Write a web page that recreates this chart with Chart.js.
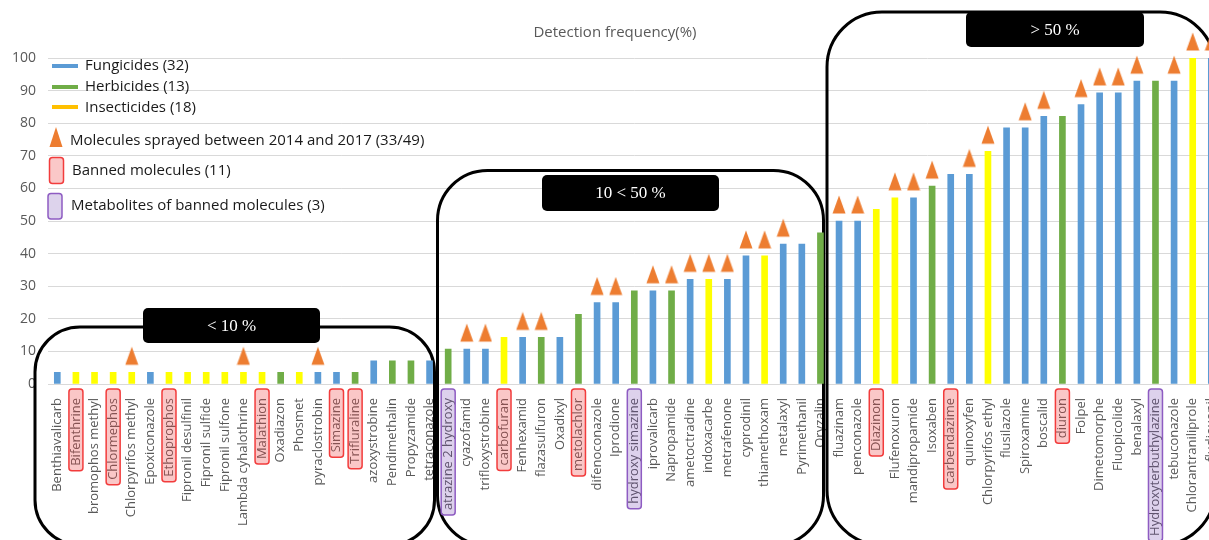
<!DOCTYPE html>
<html><head><meta charset="utf-8">
<script src="https://cdn.jsdelivr.net/npm/chart.js@4/dist/chart.umd.min.js"></script>
<style>html,body{margin:0;padding:0;overflow:hidden;background:#fff;width:1209px;height:540px}canvas{display:block}</style>
</head><body>
<canvas id="c" width="1233" height="540"></canvas>
<script>
const categories = ["Benthiavalicarb","Bifenthrine","bromophos methyl","Chlormephos","Chlorpyrifos methyl","Epoxiconazole","Ethoprophos","Fipronil desulfinil","Fipronil sulfide","Fipronil sulfone","Lambda cyhalothrine","Malathion","Oxadiazon","Phosmet","pyraclostrobin","Simazine","Trifluraline","azoxystrobine","Pendimethalin","Propyzamide","tetraconazole",
"atrazine 2 hydroxy","cyazofamid","trifloxystrobine","carbofuran","Fenhexamid","flazasulfuron","Oxadixyl","metolachlor","difenoconazole","Iprodione","hydroxy simazine","iprovalicarb","Napropamide","ametoctradine","indoxacarbe","metrafenone","cyprodinil","thiamethoxam","metalaxyl","Pyrimethanil","Oryzalin",
"fluazinam","penconazole","Diazinon","Flufenoxuron","mandipropamide","Isoxaben","carbendazime","quinoxyfen","Chlorpyrifos ethyl","flusilazole","Spiroxamine","boscalid","diuron","Folpel","Dimetomorphe","Fluopicolide","benalaxyl","Hydroxyterbuthylazine","tebuconazole","Chlorantraniliprole","fludioxonil"];

const frequency = [3.6,3.6,3.6,3.6,3.6,3.6,3.6,3.6,3.6,3.6,3.6,3.6,3.6,3.6,3.6,3.6,3.6,7.1,7.1,7.1,7.1,
10.7,10.7,10.7,14.3,14.3,14.3,14.3,21.4,25.0,25.0,28.6,28.6,28.6,32.1,32.1,32.1,39.3,39.3,42.9,42.9,46.4,
50.0,50.0,53.6,57.1,57.1,60.7,64.3,64.3,71.4,78.6,78.6,82.1,82.1,85.7,89.3,89.3,92.9,92.9,92.9,100,100];

const pesticideClass = ["F","I","I","I","I","F","I","I","I","I","I","I","H","I","F","F","H","F","H","H","F",
"H","F","F","I","F","H","F","H","F","F","H","F","H","F","I","F","F","I","F","F","H",
"F","F","I","I","F","H","F","F","I","F","F","F","H","F","F","F","F","H","F","I","F"];

const sprayedMolecules = ["Chlorpyrifos methyl","Lambda cyhalothrine","pyraclostrobin",
"cyazofamid","trifloxystrobine","Fenhexamid","flazasulfuron","difenoconazole","Iprodione","iprovalicarb","Napropamide","ametoctradine","indoxacarbe","metrafenone","cyprodinil","thiamethoxam","metalaxyl",
"fluazinam","penconazole","Flufenoxuron","mandipropamide","Isoxaben","quinoxyfen","Chlorpyrifos ethyl","Spiroxamine","boscalid","Folpel","Dimetomorphe","Fluopicolide","benalaxyl","tebuconazole","Chlorantraniliprole","fludioxonil"];

const bannedMolecules = ["Bifenthrine","Chlormephos","Ethoprophos","Malathion","Simazine","Trifluraline","carbofuran","metolachlor","Diazinon","carbendazime","diuron"];
const bannedMetabolites = ["atrazine 2 hydroxy","hydroxy simazine","Hydroxyterbuthylazine"];

const legendLabels = ["Fungicides (32)","Herbicides (13)","Insecticides (18)","Molecules sprayed between 2014 and 2017 (33/49)","Banned molecules (11)","Metabolites of banned molecules (3)"];
const groupLabels = ["< 10 %","10 < 50 %","> 50 %"];
const chartTitle = "Detection frequency(%)";

const classColor = {F:"#5B9BD5", H:"#70AD47", I:"#FFFF00"};
const barColors = pesticideClass.map(c => classColor[c]);
const triangleData = categories.map((c,i) => sprayedMolecules.includes(c) ? frequency[i] : null);

// triangle marker drawn above its point
const tri = document.createElement('canvas'); tri.width = 14; tri.height = 52;
(function(){const t=tri.getContext('2d');t.fillStyle='#ED7D31';t.beginPath();t.moveTo(7,0.5);t.lineTo(13.5,18.5);t.lineTo(0.5,18.5);t.closePath();t.fill();})();

function rr(ctx,x,y,w,h,r){ctx.beginPath();ctx.moveTo(x+r,y);ctx.lineTo(x+w-r,y);ctx.arcTo(x+w,y,x+w,y+r,r);ctx.lineTo(x+w,y+h-r);ctx.arcTo(x+w,y+h,x+w-r,y+h,r);ctx.lineTo(x+r,y+h);ctx.arcTo(x,y+h,x,y+h-r,r);ctx.lineTo(x,y+r);ctx.arcTo(x,y,x+r,y,r);ctx.closePath();}

const LABEL_FONT = "13px 'Open Sans'";
const TICK_PAD = 6;

const decor = {
  id:'decor',
  beforeDatasetsDraw(chart){
    const ctx = chart.ctx; ctx.save();
    ctx.fillStyle='#595959'; ctx.font="15px 'Open Sans'"; ctx.textAlign='center'; ctx.textBaseline='middle';
    ctx.fillText(chartTitle, 615, 33);
    ctx.strokeStyle='#000'; ctx.lineWidth=3;
    rr(ctx,35,327,399.5,218,45); ctx.stroke();
    rr(ctx,437.5,170.5,386,375,50); ctx.stroke();
    rr(ctx,827,12,388,533,55); ctx.stroke();
    const heads=[[143,308,177,35],[542,175,177,36],[966,12,178,35]];
    heads.forEach((h,i)=>{ctx.fillStyle='#000';rr(ctx,h[0],h[1],h[2],h[3],5);ctx.fill();
      ctx.fillStyle='#fff';ctx.font="17px 'Liberation Serif'";ctx.textAlign='center';ctx.textBaseline='middle';
      ctx.fillText(groupLabels[i],h[0]+h[2]/2,h[1]+h[3]/2+1);});
    ctx.restore();
  },
  afterDraw(chart){
    const ctx=chart.ctx, xs=chart.scales.x; ctx.save();
    ctx.font=LABEL_FONT;
    categories.forEach((c,i)=>{
      let fill=null,stroke=null;
      if(bannedMolecules.includes(c)){fill='rgba(240,70,70,0.30)';stroke='#F23C3C';}
      else if(bannedMetabolites.includes(c)){fill='rgba(120,70,180,0.25)';stroke='#8E5CC2';}
      if(!fill) return;
      const x=xs.getPixelForTick(i), top=xs.top+TICK_PAD-1, w=ctx.measureText(c).width;
      rr(ctx,x-7,top,14,w+14,3); ctx.fillStyle=fill; ctx.fill(); ctx.lineWidth=1.5; ctx.strokeStyle=stroke; ctx.stroke();
    });
    ctx.lineWidth=4; ctx.lineCap='butt';
    [["#5B9BD5",66],["#70AD47",87],["#FFC000",107]].forEach(([col,y])=>{ctx.strokeStyle=col;ctx.beginPath();ctx.moveTo(52,y);ctx.lineTo(78,y);ctx.stroke();});
    ctx.fillStyle='#ED7D31'; ctx.beginPath(); ctx.moveTo(56,127); ctx.lineTo(62.5,147); ctx.lineTo(49.5,147); ctx.closePath(); ctx.fill();
    rr(ctx,49.5,157.5,14,26,3); ctx.fillStyle='#FAC8C8'; ctx.fill(); ctx.lineWidth=1.5; ctx.strokeStyle='#F23C3C'; ctx.stroke();
    rr(ctx,48,193.5,14,25.5,3); ctx.fillStyle='#DDD3EC'; ctx.fill(); ctx.strokeStyle='#8E5CC2'; ctx.stroke();
    ctx.fillStyle='#1a1a1a'; ctx.font="15px 'Open Sans'"; ctx.textAlign='left'; ctx.textBaseline='middle';
    const pos=[[85,66],[85,87],[85,108],[70,141],[72,171],[71,206]];
    legendLabels.forEach((t,i)=>ctx.fillText(t,pos[i][0],pos[i][1]));
    ctx.restore();
  }
};

new Chart(document.getElementById('c'), {
  data:{labels:categories, datasets:[
    {type:'line', data:triangleData, showLine:false, pointStyle:tri, pointRadius:10, order:0, clip:false},
    {type:'bar', data:frequency, backgroundColor:barColors, barThickness:6, order:1}
  ]},
  options:{
    responsive:false, animation:false, events:[],
    layout:{padding:{top:58,left:0,right:1,bottom:0}},
    plugins:{legend:{display:false}, tooltip:{enabled:false}, title:{display:false}},
    scales:{
      x:{grid:{display:false}, border:{display:false},
         ticks:{autoSkip:false, minRotation:90, maxRotation:90, padding:TICK_PAD, color:'#595959', font:{family:'Open Sans', size:13}},
         afterFit(s){s.height=156;}},
      y:{min:0, max:100, border:{display:false},
         grid:{color:'#D9D9D9', drawTicks:false, lineWidth:1},
         ticks:{stepSize:10, padding:12, color:'#595959', font:{family:'Open Sans', size:14}},
         afterFit(s){s.width=48;}}
    }
  },
  plugins:[decor]
});
</script>
</body></html>
